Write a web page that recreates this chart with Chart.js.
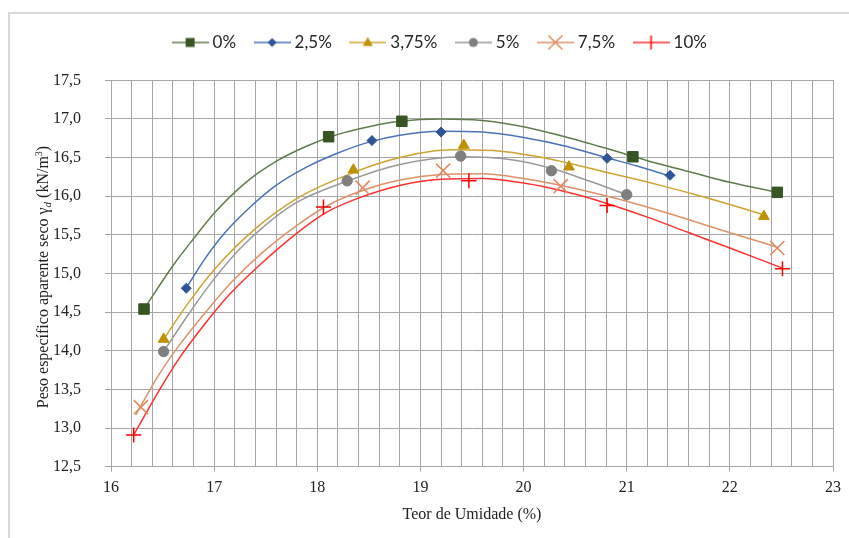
<!DOCTYPE html>
<html><head><meta charset="utf-8">
<script src="https://cdn.jsdelivr.net/npm/chart.js@4.4.1/dist/chart.umd.min.js"></script>
<style>html,body{margin:0;padding:0;background:#fff;}canvas{display:block;}</style>
</head><body>
<canvas id="c" width="849" height="538"></canvas>
<script>
// ---- data ----
const seriesLabels = ['0%', '2,5%', '3,75%', '5%', '7,5%', '10%'];

// measured points (moisture %, dry unit weight kN/m3)
const moisture0 = [16.32, 18.11, 18.82, 21.06, 22.46];
const weight0   = [14.54, 16.77, 16.97, 16.51, 16.05];
const moisture1 = [16.73, 18.53, 19.20, 20.81, 21.42];
const weight1   = [14.81, 16.72, 16.83, 16.49, 16.27];
const moisture2 = [16.51, 18.35, 19.42, 20.44, 22.33];
const weight2   = [14.15, 16.34, 16.66, 16.38, 15.74];
const moisture3 = [16.51, 18.29, 19.39, 20.27, 21.00];
const weight3   = [13.99, 16.20, 16.52, 16.33, 16.02];
const moisture4 = [16.29, 18.44, 19.22, 20.36, 22.46];
const weight4   = [13.27, 16.11, 16.33, 16.13, 15.33];
const moisture5 = [16.22, 18.06, 19.47, 20.81, 22.51];
const weight5   = [12.91, 15.86, 16.20, 15.88, 15.06];

// trend curves
const trendX0 = [16.32, 16.6, 16.8, 17.0, 17.3, 17.6, 17.9, 18.2, 18.5, 18.8, 19.2, 19.6, 20.0, 20.4, 20.8, 21.2, 21.6, 22.0, 22.46];
const trendY0 = [14.54, 15.10, 15.45, 15.78, 16.17, 16.45, 16.65, 16.80, 16.90, 16.97, 17.00, 16.98, 16.90, 16.77, 16.62, 16.46, 16.32, 16.18, 16.05];
const trendX1 = [16.73, 16.9, 17.1, 17.35, 17.6, 17.9, 18.2, 18.5, 18.8, 19.2, 19.6, 20.0, 20.4, 20.8, 21.1, 21.42];
const trendY1 = [14.81, 15.17, 15.52, 15.86, 16.14, 16.38, 16.56, 16.70, 16.79, 16.84, 16.83, 16.76, 16.65, 16.50, 16.39, 16.26];
const trendX2 = [16.51, 16.75, 17.0, 17.4, 17.8, 18.3, 18.8, 19.3, 19.8, 20.3, 20.8, 21.3, 21.8, 22.33];
const trendY2 = [14.15, 14.62, 15.05, 15.58, 15.97, 16.28, 16.50, 16.60, 16.58, 16.47, 16.31, 16.15, 15.97, 15.76];
const trendX3 = [16.51, 16.75, 17.0, 17.25, 17.5, 17.8, 18.3, 18.8, 19.4, 19.9, 20.3, 20.65, 21.0];
const trendY3 = [13.99, 14.47, 14.93, 15.32, 15.63, 15.92, 16.20, 16.41, 16.51, 16.47, 16.35, 16.19, 16.02];
const trendX4 = [16.24, 16.45, 16.65, 16.9, 17.15, 17.45, 17.8, 18.1, 18.45, 18.8, 19.2, 19.6, 20.0, 20.4, 20.9, 21.4, 21.9, 22.46];
const trendY4 = [13.17, 13.66, 14.05, 14.47, 14.86, 15.25, 15.62, 15.88, 16.08, 16.21, 16.28, 16.29, 16.23, 16.13, 15.97, 15.78, 15.57, 15.34];
const trendX5 = [16.22, 16.45, 16.65, 16.9, 17.15, 17.45, 17.8, 18.1, 18.45, 18.8, 19.2, 19.6, 20.0, 20.4, 20.8, 21.2, 21.6, 22.0, 22.51];
const trendY5 = [12.91, 13.45, 13.88, 14.33, 14.73, 15.12, 15.52, 15.80, 16.00, 16.14, 16.22, 16.23, 16.17, 16.06, 15.91, 15.73, 15.53, 15.33, 15.07];

// axis ranges
const xMin = 16, xMax = 23, xStep = 1, xGridStep = 0.2;
const yMin = 12.5, yMax = 17.5, yStep = 0.5;
const xTitle = 'Teor de Umidade (%)';

// ---- styling ----
const markerColors = ['#375623', '#2f5597', '#bf9000', '#7f7f7f', '#e2885c', '#ff0000'];
const lineColors   = ['#5f7d4c', '#4a73ba', '#cda431', '#9a9a9a', '#dd9268', '#ff3030'];
const styles = ['rect', 'rectRot', 'triangle', 'circle', 'crossRot', 'cross'];
const radii  = [7.4, 5, 6.2, 5.2, 10, 7.5];
const bws    = [1, 1, 1, 1, 1.5, 1.5];

const mx = [moisture0, moisture1, moisture2, moisture3, moisture4, moisture5];
const my = [weight0, weight1, weight2, weight3, weight4, weight5];
const tx = [trendX0, trendX1, trendX2, trendX3, trendX4, trendX5];
const ty = [trendY0, trendY1, trendY2, trendY3, trendY4, trendY5];

const zip = (a, b) => a.map((v, i) => ({x: v, y: b[i]}));

// legend symbols: line + marker
function legendSymbol(i) {
  const c = document.createElement('canvas');
  c.width = 37; c.height = 22;
  const g = c.getContext('2d');
  const cx = 18.5, cy = 11;
  g.strokeStyle = lineColors[i]; g.lineWidth = 1.5;
  g.beginPath(); g.moveTo(0, cy); g.lineTo(37, cy); g.stroke();
  g.fillStyle = markerColors[i]; g.strokeStyle = markerColors[i];
  g.lineWidth = 1.5;
  g.beginPath();
  switch (styles[i]) {
    case 'rect': g.fillRect(cx - 4.5, cy - 4.5, 9, 9); break;
    case 'rectRot': g.moveTo(cx, cy - 4.5); g.lineTo(cx + 4.5, cy); g.lineTo(cx, cy + 4.5); g.lineTo(cx - 4.5, cy); g.closePath(); g.fill(); break;
    case 'triangle': g.moveTo(cx, cy - 5.5); g.lineTo(cx + 5, cy + 3.5); g.lineTo(cx - 5, cy + 3.5); g.closePath(); g.fill(); break;
    case 'circle': g.arc(cx, cy, 4.5, 0, Math.PI * 2); g.fill(); break;
    case 'crossRot': g.moveTo(cx - 7, cy - 7); g.lineTo(cx + 7, cy + 7); g.moveTo(cx + 7, cy - 7); g.lineTo(cx - 7, cy + 7); g.stroke(); break;
    case 'cross': g.moveTo(cx, cy - 7); g.lineTo(cx, cy + 7); g.stroke(); break;
  }
  return c;
}
const legendSymbols = seriesLabels.map((_, i) => legendSymbol(i));

const datasets = [];
seriesLabels.forEach((lab, i) => {
  datasets.push({
    label: lab, data: zip(mx[i], my[i]), showLine: false,
    pointStyle: styles[i], pointRadius: radii[i], pointHoverRadius: radii[i],
    backgroundColor: markerColors[i], borderColor: markerColors[i], pointBorderWidth: bws[i]
  });
});
seriesLabels.forEach((lab, i) => {
  datasets.push({
    label: lab + ' trend', data: zip(tx[i], ty[i]), showLine: true,
    pointRadius: 0, borderColor: lineColors[i], borderWidth: 1.5,
    cubicInterpolationMode: 'monotone', fill: false
  });
});

const gridColor = '#a6a6a6';
const serif = '"Liberation Serif", "Times New Roman", serif';

const framePlugin = {
  id: 'frame',
  beforeDraw(chart) {
    const ctx = chart.ctx;
    ctx.save();
    ctx.fillStyle = '#fff';
    ctx.fillRect(0, 0, chart.width, chart.height);
    ctx.strokeStyle = '#d9d9d9'; ctx.lineWidth = 2;
    ctx.strokeRect(9, 13, 900, 600);
    ctx.restore();
  }
};

const yTitlePlugin = {
  id: 'ytitle',
  afterDraw(chart) {
    const ctx = chart.ctx;
    ctx.save();
    ctx.translate(43, 277);
    ctx.rotate(-Math.PI / 2);
    ctx.fillStyle = '#222';
    ctx.textBaseline = 'alphabetic';
    const parts = [
      ['Peso específico aparente seco γ', '16px ' + serif, 0],
      ['d', 'italic 11px ' + serif, 3],
      [' (kN/m', '16px ' + serif, 0],
      ['3', '10px ' + serif, -6],
      [')', '16px ' + serif, 0]
    ];
    let total = 0;
    parts.forEach(p => { ctx.font = p[1]; total += ctx.measureText(p[0]).width; });
    let x = -total / 2;
    parts.forEach(p => { ctx.font = p[1]; ctx.fillText(p[0], x, 5 + p[2]); x += ctx.measureText(p[0]).width; });
    ctx.restore();
  }
};

new Chart(document.getElementById('c'), {
  type: 'scatter',
  data: { datasets },
  options: {
    responsive: false, animation: false, devicePixelRatio: 1, events: [],
    layout: { padding: { left: 34, right: 0, top: 12, bottom: 0 } },
    plugins: {
      tooltip: { enabled: false },
      legend: {
        position: 'top', align: 'center',
        labels: {
          usePointStyle: true, pointStyleWidth: 28, padding: 22,
          font: { family: 'Lato', size: 17 }, color: '#262626',
          generateLabels: (chart) => seriesLabels.map((t, i) => ({
            text: t, pointStyle: legendSymbols[i], fillStyle: 'transparent',
            strokeStyle: 'transparent', lineWidth: 0, hidden: false, datasetIndex: i, fontColor: '#262626'
          }))
        }
      }
    },
    scales: {
      x: {
        type: 'linear', position: 'bottom', min: xMin, max: xMax,
        afterFit: (s) => { s.height = 71.3; },
        ticks: { stepSize: xStep, padding: 6, color: '#222', font: { family: serif, size: 16 },
                 callback: (v) => String(v) },
        grid: { drawOnChartArea: false, drawTicks: true, tickLength: 5, color: gridColor, tickColor: gridColor },
        border: { display: true, color: gridColor, width: 1 },
        title: { display: true, text: xTitle, color: '#222', font: { family: serif, size: 16 }, padding: { top: 0, bottom: 14 } }
      },
      x2: {
        type: 'linear', position: 'top', min: xMin, max: xMax,
        afterFit: (s) => { s.height = 19.3; },
        ticks: { display: false, stepSize: xGridStep },
        grid: { drawTicks: false, color: gridColor, lineWidth: 1 },
        border: { display: false }
      },
      y: {
        type: 'linear', position: 'left', min: yMin, max: yMax,
        afterFit: (s) => { s.width = 77; },
        ticks: { stepSize: yStep, padding: 24, color: '#222', font: { family: serif, size: 16 },
                 callback: (v) => v.toFixed(1).replace('.', ',') },
        grid: { color: gridColor, tickColor: gridColor, tickLength: 6, lineWidth: 1 },
        border: { display: true, color: gridColor, width: 1 }
      },
      y2: {
        type: 'linear', position: 'right', min: yMin, max: yMax,
        afterFit: (s) => { s.width = 16; },
        ticks: { display: false },
        grid: { display: false },
        border: { display: false }
      }
    }
  },
  plugins: [framePlugin, yTitlePlugin]
});
</script>
</body></html>
